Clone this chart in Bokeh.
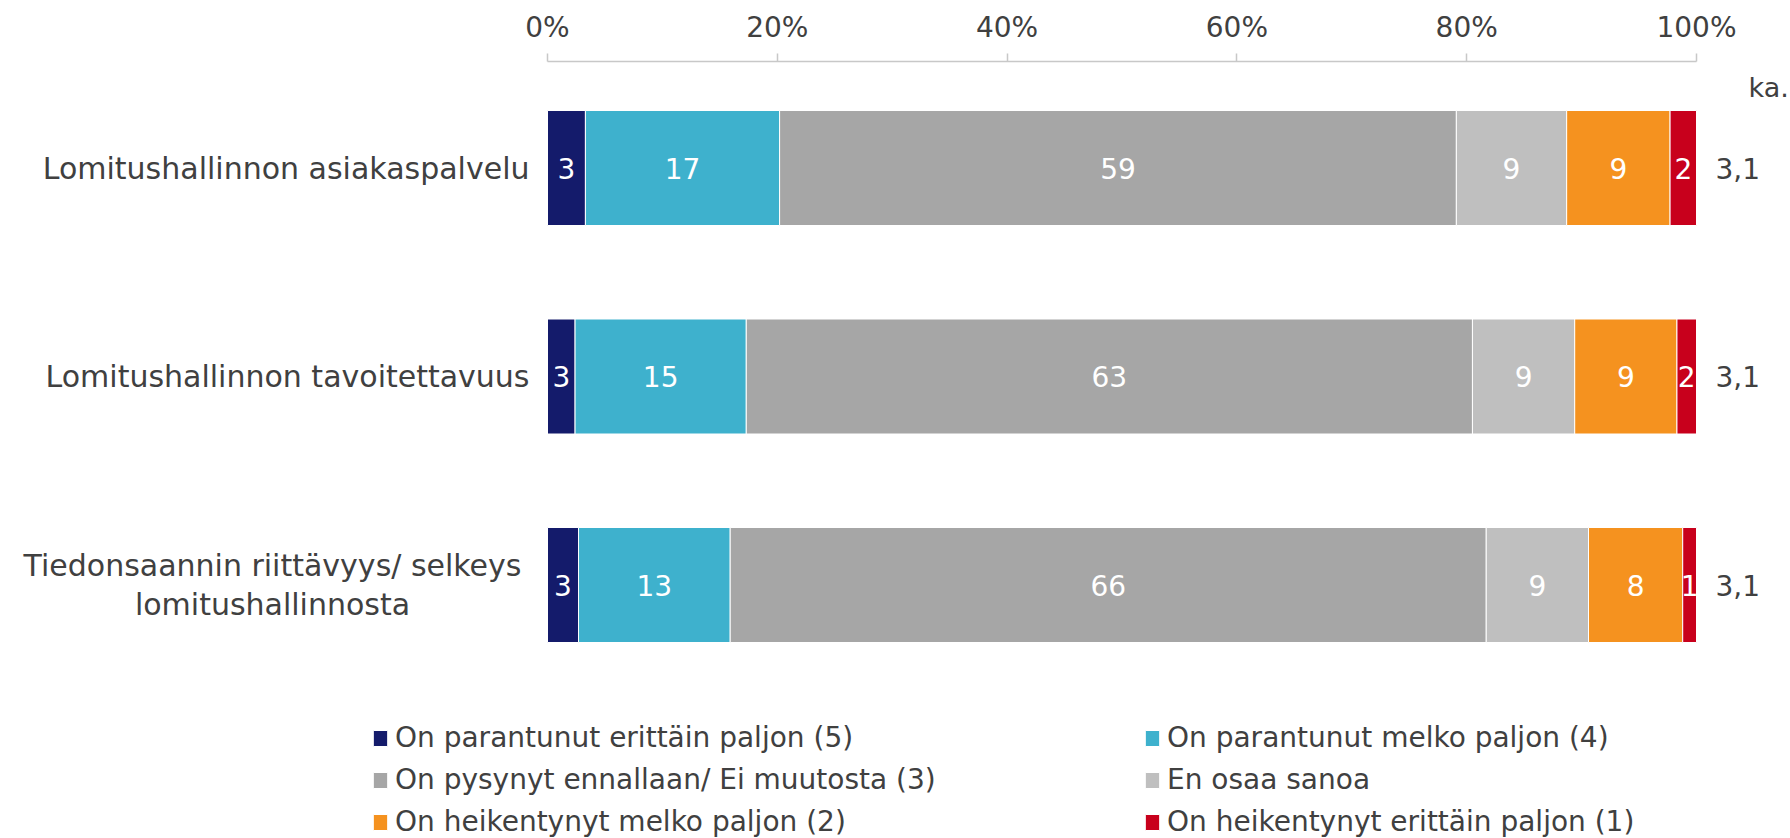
from bokeh.plotting import figure
from bokeh.models import (ColumnDataSource, Range1d, FixedTicker, PrintfTickFormatter,
                          Legend, LegendItem)
from bokeh.core.properties import value
from bokeh.embed import file_html
from bokeh.resources import INLINE
import numpy as np

# ---------------- data ----------------
categories = ["Lomitushallinnon asiakaspalvelu",
              "Lomitushallinnon tavoitettavuus",
              "Tiedonsaannin riittävyys/ selkeys\nlomitushallinnosta"]
series = ["On parantunut erittäin paljon (5)",
          "On parantunut melko paljon (4)",
          "On pysynyt ennallaan/ Ei muutosta (3)",
          "En osaa sanoa",
          "On heikentynyt melko paljon (2)",
          "On heikentynyt erittäin paljon (1)"]
colors = ["#141B6B", "#3EB1CD", "#A6A6A6", "#BFBFBF", "#F5921F", "#C8001C"]

# bar shares (%) per category
s5 = [3.3, 2.4, 2.7]
s4 = [16.9, 14.9, 13.2]
s3 = [58.9, 63.2, 65.8]
s_eos = [9.6, 8.9, 8.9]
s2 = [9.0, 8.9, 8.2]
s1 = [2.3, 1.7, 1.2]
# printed data labels
l5 = [3, 3, 3]
l4 = [17, 15, 13]
l3 = [59, 63, 66]
l_eos = [9, 9, 9]
l2 = [9, 9, 8]
l1 = [2, 2, 1]
ka = [3.1, 3.1, 3.1]
ka_title = "ka."
tick_values = [0, 20, 40, 60, 80, 100]

shares = [s5, s4, s3, s_eos, s2, s1]
labels = [l5, l4, l3, l_eos, l2, l1]

# ---------------- layout constants ----------------
W, H = 1790, 838
ZERO_PX, FULL_PX = 547, 1149
TOP = 61
ROW0_PX, ROW_PITCH = 167.5, 208.5
FONT = "DejaVu Sans"
TXT = "#404040"

x0 = -ZERO_PX / FULL_PX * 100
x1 = x0 + W / FULL_PX * 100
frame_h = H - TOP
y_top = -(ROW0_PX - TOP) / ROW_PITCH
y_bot = y_top + frame_h / ROW_PITCH

p = figure(width=W, height=H, output_backend="svg", toolbar_location=None,
           x_range=Range1d(x0, x1), y_range=Range1d(y_bot, y_top),
           x_axis_location="above", y_axis_location=None,
           min_border_left=0, min_border_right=0, min_border_bottom=0,
           min_border_top=TOP, outline_line_color=None, background_fill_color="white",
           border_fill_color="white")
p.grid.visible = False

ax = p.xaxis[0]
ax.ticker = FixedTicker(ticks=tick_values)
ax.formatter = PrintfTickFormatter(format="%d%%")
ax.bounds = (0, 100)
ax.axis_line_color = "#C8C8C8"
ax.axis_line_width = 1.5
ax.major_tick_line_color = "#C8C8C8"
ax.major_tick_line_width = 1.5
ax.major_tick_out = 8
ax.major_tick_in = 0
ax.minor_tick_line_color = None
ax.major_label_text_font = FONT
ax.major_label_text_font_size = "28px"
ax.major_label_text_color = TXT
ax.major_label_standoff = 10

# stacked bars
ys = list(range(len(categories)))
data = {"y": ys}
keys = []
for i, s in enumerate(shares):
    k = f"s{i}"
    keys.append(k)
    data[k] = s
src = ColumnDataSource(data)
rends = p.hbar_stack(keys, y="y", height=115 / ROW_PITCH, color=colors,
                     line_color="white", line_width=1, source=src)

# segment labels
arr = np.array(shares, dtype=float)
cum = np.cumsum(arr, axis=0)
mids = cum - arr / 2
lx, ly, lt = [], [], []
for i in range(arr.shape[0]):
    for j in range(arr.shape[1]):
        lx.append(mids[i, j]); ly.append(ys[j]); lt.append(str(labels[i][j]))
p.text(x=lx, y=ly, text=lt, text_color="white", text_font=value(FONT),
       text_font_size="28px", text_align="center", text_baseline="middle")

# category labels
multi = ["\n" in c for c in categories]
p.text(x=[0] * len(categories), y=ys, text=categories,
       x_offset=[-275 if m else -18 for m in multi],
       text_align=["center" if m else "right" for m in multi],
       text_color=TXT, text_font=value(FONT), text_font_size="30px",
       text_baseline="middle", text_line_height=1.1)

# averages
p.text(x=[100] * len(ka), y=ys, text=[f"{v:.1f}".replace(".", ",") for v in ka],
       x_offset=19, text_color=TXT, text_font=value(FONT), text_font_size="28px",
       text_align="left", text_baseline="middle")
p.text(x=[100], y=[0], text=[ka_title], x_offset=52, y_offset=-81,
       text_color=TXT, text_font=value(FONT), text_font_size="27px",
       text_align="left", text_baseline="middle")

# legends (two columns)
def mk_leg(idx, xloc):
    items = [LegendItem(label=series[i], renderers=[rends[i]]) for i in idx]
    lg = Legend(items=items, location=(xloc, 0), orientation="vertical",
                glyph_width=18, glyph_height=20, label_standoff=6,
                label_text_font=FONT, label_text_font_size="28px",
                label_text_color=TXT, label_height=32, spacing=9,
                padding=0, margin=0, border_line_color=None,
                background_fill_alpha=0)
    p.add_layout(lg, "center")

mk_leg([0, 2, 4], 371)
mk_leg([1, 3, 5], 1143)

open("out.html", "w").write(file_html(p, INLINE))
